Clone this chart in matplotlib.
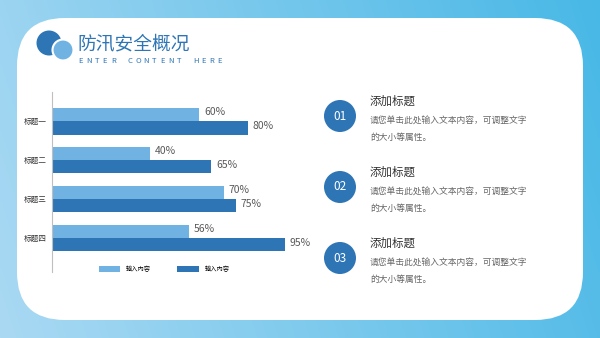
import matplotlib
matplotlib.use("Agg")
import matplotlib.pyplot as plt
import numpy as np
from matplotlib.patches import FancyBboxPatch, Circle

plt.rcParams["font.family"] = ["Noto Sans CJK SC", "DejaVu Sans"]

# data
categories = ["标题一", "标题二", "标题三", "标题四"]
series_a = [60, 40, 70, 56]
series_b = [80, 65, 75, 95]
legend_names = ["输入内容", "输入内容"]
items = ["01", "02", "03"]
item_title = "添加标题"
item_text = ["请您单击此处输入文本内容，可调整文字", "的大小等属性。"]
title = "防汛安全概况"
subtitle = "ENTER CONTENT HERE"

light = "#70b3e3"
dark = "#2e75b6"

W, H = 600, 338
fig = plt.figure(figsize=(6, 3.38), dpi=100)

# background canvas in pixel coords
bg = fig.add_axes([0, 0, 1, 1])
bg.set_xlim(0, W)
bg.set_ylim(H, 0)
bg.axis("off")

# gradient background
xs = np.linspace(0, 1, 200)
ys = np.linspace(0, 1, 120)
gx, gy = np.meshgrid(xs, ys)
c_left = np.array([170, 217, 243]) / 255
c_right = np.array([72, 184, 230]) / 255
t = np.clip(gx * 0.85 + (1 - gy) * 0.15, 0, 1)[..., None]
img = c_left * (1 - t) + c_right * t
bg.imshow(img, extent=[0, W, H, 0], aspect="auto", zorder=0)

card = FancyBboxPatch((17, 18), 566, 302, boxstyle="round,pad=0,rounding_size=48",
                      fc="white", ec="none", zorder=1)
bg.add_patch(card)

# logo + title
bg.add_patch(Circle((49, 43), 12.5, fc=dark, ec="none", zorder=2))
bg.add_patch(Circle((63, 50), 10.5, fc=light, ec="white", lw=1.5, zorder=3))
bg.text(77, 44, title, fontsize=13.5, color=dark, va="center", ha="left", zorder=4)
for i, ch in enumerate(subtitle):
    bg.text(78 + i * 8.2, 61, ch, fontsize=5.5, color=dark, va="center", ha="left", zorder=4)

# right side items
for i, num in enumerate(items):
    cy = 116 + i * 71
    bg.add_patch(Circle((340, cy), 16, fc=dark, ec="none", zorder=2))
    bg.text(340, cy, num, fontsize=8.5, color="white", ha="center", va="center", zorder=3)
    bg.text(370, cy - 15, item_title, fontsize=8.3, color="#333333", ha="left", va="center", zorder=3)
    bg.text(370, cy + 5, item_text[0], fontsize=6.3, color="#666666", ha="left", va="center", zorder=3)
    bg.text(370, cy + 21, item_text[1], fontsize=6.3, color="#666666", ha="left", va="center", zorder=3)

# bar chart
ax = fig.add_axes([52 / W, 1 - 272 / H, 245 / W, 180 / H])
ax.patch.set_alpha(0)
y = np.arange(len(categories))
h = 0.346
ba = ax.barh(y - h / 2, series_a, height=h, color=light, label=legend_names[0])
bb = ax.barh(y + h / 2, series_b, height=h, color=dark, label=legend_names[1])
for bars, vals in ((ba, series_a), (bb, series_b)):
    for b, v in zip(bars, vals):
        ax.text(v + 2, b.get_y() + b.get_height() / 2 - 0.05, f"{v}%", fontsize=7.5,
                color="#595959", ha="left", va="center", clip_on=False)
ax.set_xlim(0, 100)
ax.set_ylim(3.872, -0.744)
ax.set_yticks(y)
ax.set_yticklabels(categories, fontsize=5.5, color="#333333")
ax.tick_params(axis="y", length=0, pad=4)
ax.set_xticks([])
for s in ["top", "right", "bottom"]:
    ax.spines[s].set_visible(False)
ax.spines["left"].set_color("#bfbfbf")
ax.spines["left"].set_linewidth(0.8)

ax.legend(loc="center", bbox_to_anchor=(164 / W, 1 - 269 / H), bbox_transform=fig.transFigure,
          ncol=2, frameon=False, fontsize=4.5, handlelength=3.4, handleheight=1.3,
          columnspacing=4.3, handletextpad=0.9)

fig.savefig("out.png", dpi=100)
